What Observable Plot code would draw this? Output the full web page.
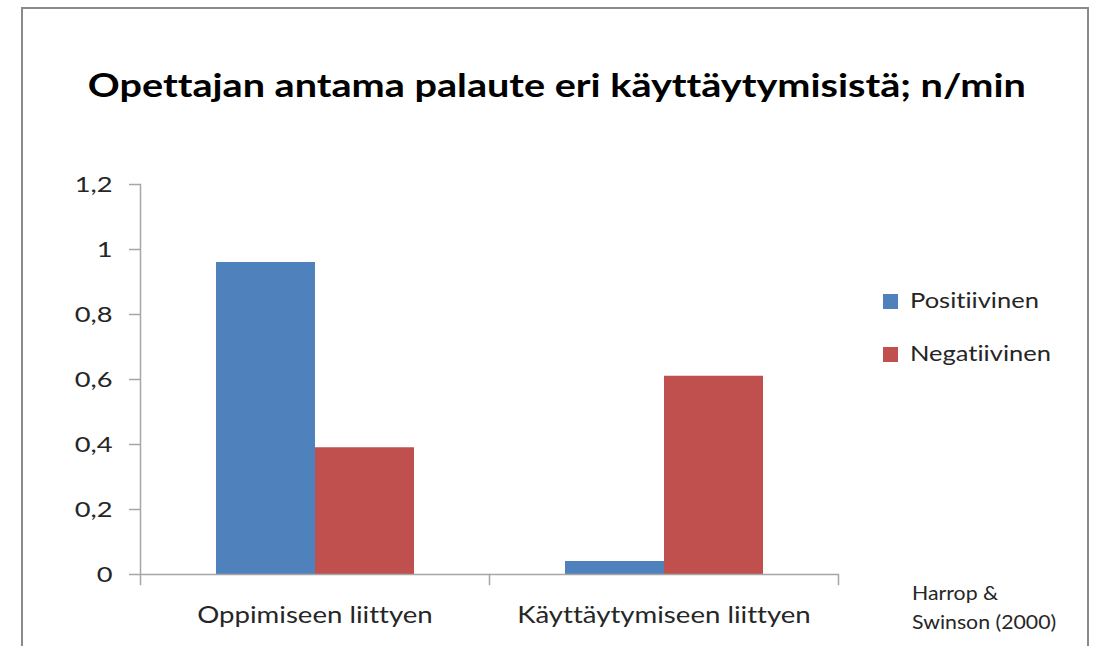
<!DOCTYPE html>
<html><head><meta charset="utf-8">
<script src="https://cdn.jsdelivr.net/npm/d3@7"></script>
<script src="https://cdn.jsdelivr.net/npm/@observablehq/plot@0.6"></script>
<style>
html,body{margin:0;padding:0;background:#fff;overflow:hidden;}
#wrap{position:relative;width:1094px;height:646px;overflow:hidden;font-family:Lato, "Open Sans", sans-serif;color:#1a1a1a;font-variant-ligatures:none;}
#wrap svg text{font-variant-ligatures:none;}
#border{position:absolute;left:21px;top:7px;width:1068px;height:680px;border:2px solid #8a8a8a;box-sizing:border-box;}
#chart{position:absolute;left:0;top:0;}
#title{position:absolute;left:0;width:1113px;top:64px;text-align:center;font-weight:bold;font-size:33px;line-height:40px;color:#000;white-space:nowrap;}
#title span{display:inline-block;transform:scaleX(1.2);transform-origin:center;}
.leg{position:absolute;left:883px;font-size:22px;line-height:26px;white-space:nowrap;color:#262626;}
.sw{position:absolute;left:0;top:7px;width:15px;height:15px;}
.leg span.t{position:absolute;left:27px;top:0;display:inline-block;transform:scaleX(1.16);transform-origin:left;}
#source{position:absolute;left:912px;top:578px;font-size:19px;line-height:29px;white-space:nowrap;color:#262626;transform:scaleX(1.12);transform-origin:left;}
</style></head>
<body>
<div id="wrap">
  <div id="border"></div>
  <div id="chart"></div>
  <div id="title"><span></span></div>
  <div id="legend"></div>
  <div id="source"></div>
</div>
<script>
const chartTitle = "Opettajan antama palaute eri käyttäytymisistä; n/min";
const categories = ["Oppimiseen liittyen", "Käyttäytymiseen liittyen"];
const seriesNames = ["Positiivinen", "Negatiivinen"];
const positiivinen = [0.96, 0.04];
const negatiivinen = [0.39, 0.61];
const yTicks = [0, 0.2, 0.4, 0.6, 0.8, 1, 1.2];
const yTickLabels = ["0", "0,2", "0,4", "0,6", "0,8", "1", "1,2"];
const seriesColors = ["#4f81bd", "#c0504d"];
const sourceLines = ["Harrop &", "Swinson (2000)"];

const table = [];
categories.forEach((c, i) => {
  table.push({category: c, series: seriesNames[0], value: positiivinen[i]});
  table.push({category: c, series: seriesNames[1], value: negatiivinen[i]});
});

const axisGray = "#a6a6a6";
const chart = Plot.plot({
  width: 1094,
  height: 640,
  marginLeft: 140,
  marginRight: 256,
  marginTop: 184,
  marginBottom: 66,
  style: {fontFamily: "Lato, 'Open Sans', sans-serif", fontSize: "22px", color: "#262626", background: "transparent", overflow: "visible"},
  fx: {domain: categories, padding: 0, label: null},
  x: {domain: seriesNames, axis: null, paddingInner: 0, paddingOuter: 0.75},
  y: {domain: [0, 1.2], axis: null},
  color: {domain: seriesNames, range: seriesColors},
  marks: [
    Plot.barY(table, {fx: "category", x: "series", y: "value", fill: "series", insetLeft: 0, insetRight: 0}),
    Plot.ruleY([0], {stroke: axisGray, strokeWidth: 1.5}),
    Plot.frame({anchor: "left", facet: "super", stroke: axisGray, strokeWidth: 1.5, insetBottom: -10}),
    Plot.frame({anchor: "right", stroke: axisGray, strokeWidth: 1.5, insetTop: 390, insetBottom: -10}),
    Plot.axisY({ticks: yTicks, tickFormat: d => yTickLabels[yTicks.indexOf(d)], tickSize: 11, tickPadding: 17, stroke: axisGray, strokeWidth: 1.5, fontSize: 22, label: null}),
    Plot.axisFx({anchor: "bottom", tickSize: 0, tickPadding: 32, fontSize: 23, label: null})
  ]
});

// horizontally widen axis text to match the stretched look of the original
d3.select(chart).selectAll("text").each(function () {
  const isCat = categories.includes(this.textContent);
  const s = isCat ? 1.2 : 1.24;
  const tr = this.getAttribute("transform");
  if (tr) {
    this.setAttribute("transform", tr + ` scale(${s},1)`);
  } else {
    const x = +this.getAttribute("x") || 0;
    this.removeAttribute("x");
    this.setAttribute("transform", `translate(${x},0) scale(${s},1)`);
  }
});

document.getElementById("chart").appendChild(chart);
document.querySelector("#title span").textContent = chartTitle;

const legend = document.getElementById("legend");
seriesNames.forEach((s, i) => {
  const row = document.createElement("div");
  row.className = "leg";
  row.style.top = (287 + i * 53) + "px";
  const sw = document.createElement("div");
  sw.className = "sw";
  sw.style.background = seriesColors[i];
  const t = document.createElement("span");
  t.className = "t";
  t.textContent = s;
  row.appendChild(sw);
  row.appendChild(t);
  legend.appendChild(row);
});
document.getElementById("source").innerHTML = sourceLines.join("<br>");
</script>
</body></html>
